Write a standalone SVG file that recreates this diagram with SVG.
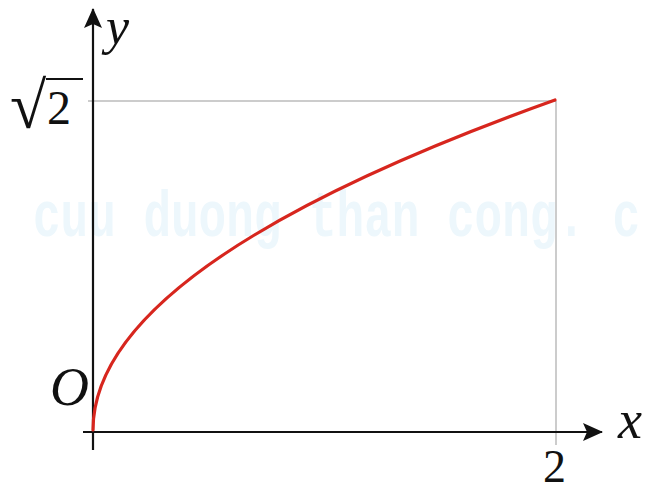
<svg xmlns="http://www.w3.org/2000/svg" width="648" height="484" viewBox="0 0 648 484">
<style>
.axis{stroke:#111;stroke-width:2.2;fill:none}
.guide{stroke:#999;stroke-width:1;fill:none}
.curve{stroke:#d7261e;stroke-width:3.2;fill:none;stroke-linecap:round}
.wm{font-weight:bold;fill:#edf7fc}
</style>
<defs>
<marker id="ah" viewBox="0 0 20 18" refX="19" refY="9" markerWidth="20" markerHeight="18" markerUnits="userSpaceOnUse" orient="auto">
<path d="M0,0 L20,9 L0,18 L4,9 Z" fill="#111"/>
</marker>
</defs>
<rect width="648" height="484" fill="#fff"/>
<g id="watermark">
<text class="wm" font-family="'Liberation Mono', 'DejaVu Sans Mono', monospace" x="33" y="168.6" font-size="46" transform="scale(1,1.4)">cuu duong than cong. c</text>
</g>
<g id="guides">
<line class="guide" x1="88" y1="101" x2="556" y2="101"/>
<line class="guide" x1="556" y1="101" x2="556" y2="445"/>
</g>
<g id="connectors">
<line id="x-axis" class="axis" x1="83" y1="432" x2="602" y2="432" marker-end="url(#ah)"/>
<line id="y-axis" class="axis" x1="93" y1="450" x2="93" y2="9" marker-end="url(#ah)"/>
</g>
<g id="curve">
<path class="curve" d="M93,430 Q93,265 555,100"/>
</g>
<g id="labels" font-family="'Liberation Serif', 'DejaVu Serif', 'Times New Roman', serif" fill="#111">
<text font-style="italic" x="106" y="44" font-size="52">y</text>
<text font-style="italic" x="50" y="405" font-size="54">O</text>
<text font-style="italic" x="618" y="438" font-size="54">x</text>
<text x="543" y="482" font-size="46">2</text>
<g id="sqrt2">
<text x="10" y="128" font-size="66">√</text>
<line x1="46" y1="79" x2="83" y2="79" stroke="#111" stroke-width="2"/>
<text x="47" y="124" font-size="48">2</text>
</g>
</g>
</svg>
